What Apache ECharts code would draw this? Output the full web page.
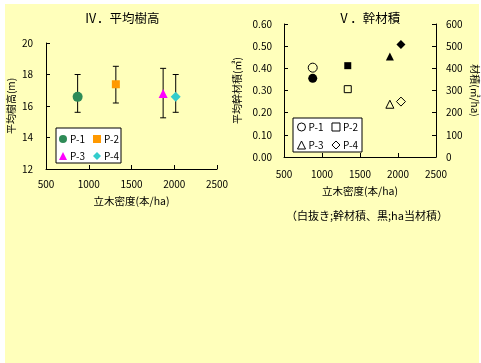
<!DOCTYPE html>
<html><head><meta charset="utf-8">
<script src="https://cdn.jsdelivr.net/npm/echarts@6/dist/echarts.min.js"></script>
<style>html,body{margin:0;padding:0;background:#fff;}#c{width:481px;height:363px;}</style>
</head><body><div id="c"></div>
<script>
const plots = ['P-1', 'P-2', 'P-3', 'P-4'];
const densityH = [870, 1317, 1870, 2017];
const heightMean = [16.58, 17.38, 16.8, 16.58];
const heightLow = [15.6, 16.19, 15.25, 15.6];
const heightHigh = [18.0, 18.52, 18.39, 18.0];
const densityV = [878, 1339, 1893, 2039];
const stemVol = [0.403, 0.306, 0.238, 0.25];
const haVol = [355, 412, 453, 508];

const FONT = '"Noto Sans CJK JP", sans-serif';
const hColors = ['#2E8B57', '#FF9900', '#FF00FF', '#33CCCC'];
const symbols = ['circle', 'rect', 'triangle', 'diamond'];
const hSizes = [10, 8, 9, 10];
const vSizes = [9, 7, 8, 9];

const chart = echarts.init(document.getElementById('c'));
const txt = {color: '#000', fontFamily: FONT, fontSize: 10};

function xAxis(gi, margin, nameGap) {
  return {type: 'value', gridIndex: gi, min: 500, max: 2500, interval: 500,
    axisLine: {lineStyle: {color: '#000'}}, axisTick: {inside: true, length: 4, lineStyle: {color: '#000'}},
    splitLine: {show: false}, axisLabel: Object.assign({margin: margin, formatter: v => String(v)}, txt),
    name: '立木密度(本/ha)', nameLocation: 'middle', nameGap: nameGap, nameTextStyle: Object.assign({}, txt, {fontSize: 10.5})};
}

const series = [];
series.push({type: 'custom', xAxisIndex: 0, yAxisIndex: 0, z: 1, silent: true,
  data: densityH.map((d, i) => [d, heightLow[i], heightHigh[i]]),
  renderItem: function (params, api) {
    const x = api.value(0);
    const p1 = api.coord([x, api.value(1)]);
    const p2 = api.coord([x, api.value(2)]);
    const w = 3;
    const st = {stroke: '#000', lineWidth: 1};
    return {type: 'group', children: [
      {type: 'line', shape: {x1: p1[0], y1: p1[1], x2: p2[0], y2: p2[1]}, style: st},
      {type: 'line', shape: {x1: p1[0] - w, y1: p1[1], x2: p1[0] + w, y2: p1[1]}, style: st},
      {type: 'line', shape: {x1: p2[0] - w, y1: p2[1], x2: p2[0] + w, y2: p2[1]}, style: st}
    ]};
  }});
plots.forEach((p, i) => {
  series.push({name: p, type: 'scatter', xAxisIndex: 0, yAxisIndex: 0, z: 3,
    symbol: symbols[i], symbolSize: hSizes[i],
    itemStyle: {color: hColors[i], opacity: 1},
    data: [[densityH[i], heightMean[i]]]});
});
plots.forEach((p, i) => {
  series.push({name: 'V' + p, type: 'scatter', xAxisIndex: 1, yAxisIndex: 1, z: 3,
    symbol: symbols[i], symbolSize: vSizes[i],
    itemStyle: {color: 'rgba(0,0,0,0)', borderColor: '#000', borderWidth: 1, opacity: 1},
    data: [[densityV[i], stemVol[i]]]});
  series.push({name: 'H' + p, type: 'scatter', xAxisIndex: 1, yAxisIndex: 2, z: 3,
    symbol: symbols[i], symbolSize: vSizes[i],
    itemStyle: {color: '#000', opacity: 1},
    data: [[densityV[i], haVol[i]]]});
});

function legend(data, left, top, gap) {
  return {data: data, left: left, top: top, itemGap: gap, itemWidth: 8, itemHeight: 8, padding: 0,
    selectedMode: false, formatter: n => n.replace(/^V/, ''),
    itemStyle: {borderWidth: 1},
    textStyle: Object.assign({}, txt, {fontSize: 10, padding: [0, 0, 0, -2]})};
}

chart.setOption({
  animation: false,
  textStyle: {fontFamily: FONT},
  graphic: [
    {type: 'rect', shape: {x: 5, y: 4, width: 474, height: 359}, style: {fill: '#FFFFBB'}, z: -10},
    {type: 'rect', shape: {x: 56, y: 128, width: 65, height: 35}, style: {fill: '#fff', stroke: '#000', lineWidth: 1}, z: 0},
    {type: 'rect', shape: {x: 293, y: 118, width: 69, height: 34}, style: {fill: '#fff', stroke: '#000', lineWidth: 1}, z: 0},
    {type: 'text', x: 367, y: 216, style: {text: '（白抜き;幹材積、黒;ha当材積）', fill: '#000', font: '11px ' + FONT, textAlign: 'center', textVerticalAlign: 'middle'}, z: 5}
  ],
  title: [
    {text: 'Ⅳ．平均樹高', left: 117, top: 7, textAlign: 'center', textStyle: {color: '#000', fontFamily: FONT, fontSize: 12.5, fontWeight: 'normal'}},
    {text: 'Ⅴ．幹材積', left: 364, top: 7, textAlign: 'center', textStyle: {color: '#000', fontFamily: FONT, fontSize: 12.5, fontWeight: 'normal'}}
  ],
  legend: [
    legend(['P-1', 'P-2'], 59, 134, 8),
    legend(['P-3', 'P-4'], 59, 151, 8),
    legend(['VP-1', 'VP-2'], 297, 122, 8),
    legend(['VP-3', 'VP-4'], 297, 140, 8)
  ],
  grid: [
    {left: 46, top: 43, width: 171, height: 126},
    {left: 284, top: 24, width: 154, height: 133}
  ],
  xAxis: [xAxis(0, 10, 27), xAxis(1, 12, 29)],
  yAxis: [
    {type: 'value', gridIndex: 0, min: 12, max: 20, interval: 2,
      axisLine: {show: true, lineStyle: {color: '#000'}}, axisTick: {show: true, inside: true, length: 4, lineStyle: {color: '#000'}},
      splitLine: {show: false}, axisLabel: Object.assign({margin: 13}, txt),
      name: '平均樹高(m)', nameLocation: 'middle', nameRotate: 90, nameGap: 30, nameTextStyle: txt},
    {type: 'value', gridIndex: 1, min: 0, max: 0.6, interval: 0.1,
      axisLine: {show: true, lineStyle: {color: '#000'}}, axisTick: {show: true, inside: true, length: 4, lineStyle: {color: '#000'}},
      splitLine: {show: false}, axisLabel: Object.assign({margin: 12, formatter: v => v.toFixed(2)}, txt),
      name: '平均幹材積(㎥)', nameLocation: 'middle', nameRotate: 90, nameGap: 42, nameTextStyle: txt},
    {type: 'value', gridIndex: 1, position: 'right', min: 0, max: 600, interval: 100,
      axisLine: {show: true, lineStyle: {color: '#000'}}, axisTick: {show: true, inside: true, length: 4, lineStyle: {color: '#000'}},
      splitLine: {show: false}, axisLabel: Object.assign({margin: 10}, txt),
      name: '材積(㎥/ha)', nameLocation: 'middle', nameRotate: -90, nameGap: 34, nameTextStyle: txt}
  ],
  series: series
});
</script></body></html>
